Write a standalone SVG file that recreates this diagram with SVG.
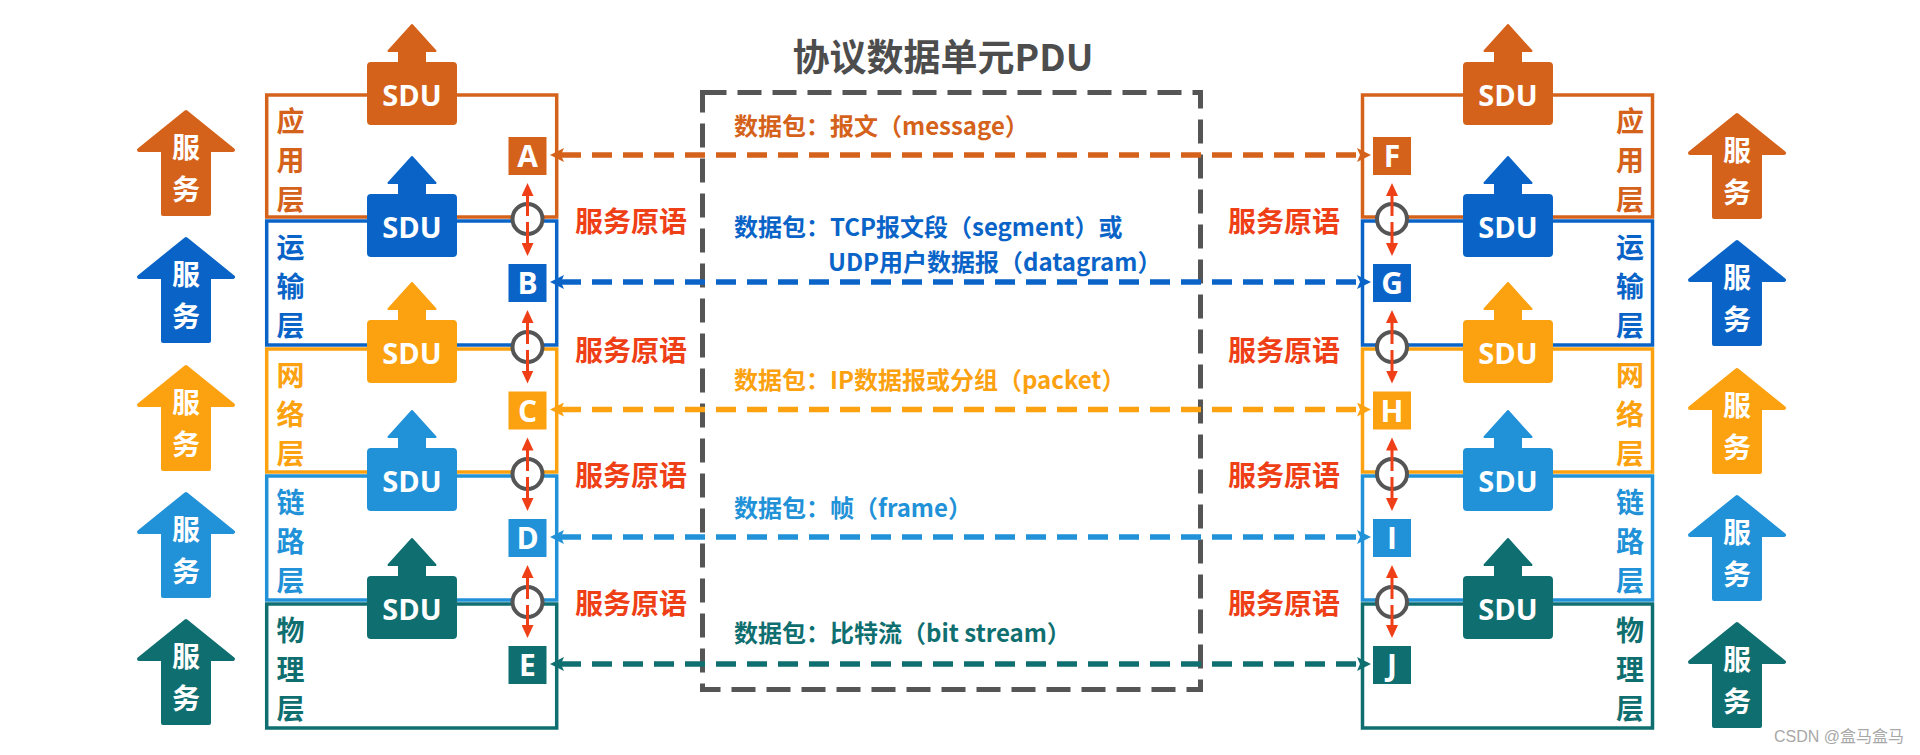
<svg xmlns="http://www.w3.org/2000/svg" xmlns:xlink="http://www.w3.org/1999/xlink" width="1920" height="755" viewBox="0 0 1920 755">
<style>
.f1{fill:#D5621B;stroke:#D5621B}
.f2{fill:#0A64C8;stroke:#0A64C8}
.f3{fill:#FCA10F;stroke:#FCA10F}
.f4{fill:#2191D8;stroke:#2191D8}
.f5{fill:#0F6F70;stroke:#0F6F70}
.svc{stroke-width:4;stroke-linejoin:round}
.sdu{stroke-width:2;stroke-linejoin:round}
.box{stroke:none}
.lay{fill:none;stroke-width:3.5}
.s1{stroke:#D5621B}.s2{stroke:#0A64C8}.s3{stroke:#FCA10F}.s4{stroke:#2191D8}.s5{stroke:#0F6F70}
.t1{fill:#D5621B}.t2{fill:#0A64C8}.t3{fill:#FCA10F}.t4{fill:#2191D8}.t5{fill:#0F6F70}
.cjk{font-family:"Noto Sans CJK SC","Noto Sans",sans-serif;font-weight:bold}
.wt{fill:#fff;stroke:none;font-family:"Noto Sans CJK SC",sans-serif;font-weight:bold;font-size:28px;text-anchor:middle}
.lt{font-family:"Open Sans","Liberation Sans",sans-serif;font-weight:bold;fill:#fff;stroke:none;text-anchor:middle}
.layt{font-family:"Noto Sans CJK SC",sans-serif;font-weight:bold;font-size:28px;text-anchor:middle;stroke:none}
.prim{font-family:"Noto Sans CJK SC",sans-serif;font-weight:bold;font-size:28px;fill:#EF3F17}
.pkt{font-family:"Noto Sans CJK SC",sans-serif;font-weight:bold;font-size:24px}
.circ{fill:#fff;stroke:#555;stroke-width:4}
.red{stroke:#EF3F17;stroke-width:3;fill:none}
.dl{fill:none;stroke-width:5.5;stroke-dasharray:20 11}
</style>
<defs>
<path id="svc" d="M0,2 L47,40 L23,40 L23,104 L-23,104 L-23,40 L-47,40 Z"/>
<path id="sdu" d="M3,0 H31 V-12 H20.5 L44,-38 L67.5,-12 H57 V0 H85 Q88,0 88,3 V58 Q88,61 85,61 H3 Q0,61 0,58 V3 Q0,0 3,0 Z"/>
<marker id="mr" markerUnits="userSpaceOnUse" markerWidth="14" markerHeight="12" refX="1" refY="6" orient="auto"><path d="M0,0 L13,6 L0,12 Z" fill="#EF3F17"/></marker>
<marker id="m1" markerUnits="userSpaceOnUse" markerWidth="15" markerHeight="14" refX="3" refY="7" orient="auto-start-reverse"><path d="M0,0 L14,7 L0,14 L3,7 Z" fill="#D5621B"/></marker>
<marker id="m2" markerUnits="userSpaceOnUse" markerWidth="15" markerHeight="14" refX="3" refY="7" orient="auto-start-reverse"><path d="M0,0 L14,7 L0,14 L3,7 Z" fill="#0A64C8"/></marker>
<marker id="m3" markerUnits="userSpaceOnUse" markerWidth="15" markerHeight="14" refX="3" refY="7" orient="auto-start-reverse"><path d="M0,0 L14,7 L0,14 L3,7 Z" fill="#FCA10F"/></marker>
<marker id="m4" markerUnits="userSpaceOnUse" markerWidth="15" markerHeight="14" refX="3" refY="7" orient="auto-start-reverse"><path d="M0,0 L14,7 L0,14 L3,7 Z" fill="#2191D8"/></marker>
<marker id="m5" markerUnits="userSpaceOnUse" markerWidth="15" markerHeight="14" refX="3" refY="7" orient="auto-start-reverse"><path d="M0,0 L14,7 L0,14 L3,7 Z" fill="#0F6F70"/></marker>
</defs>
<rect x="0" y="0" width="1920" height="755" fill="#fff"/>

<g id="title"><text x="943" y="71" class="cjk" font-size="37" fill="#4D4D4D" text-anchor="middle">协议数据单元PDU</text></g>
<g id="pdu-box"><rect x="702.5" y="92.5" width="498" height="597" fill="none" stroke="#555" stroke-width="5" stroke-dasharray="24 11"/></g>

<!-- left layers -->
<g id="left-app"><rect class="lay s1" x="266.7" y="95" width="290" height="122"/>
<text class="layt t1" x="290.5" y="132">应</text><text class="layt t1" x="290.5" y="171">用</text><text class="layt t1" x="290.5" y="210">层</text></g>
<g id="left-transport"><rect class="lay s2" x="266.7" y="221" width="290" height="124"/>
<text class="layt t2" x="290.5" y="258">运</text><text class="layt t2" x="290.5" y="297">输</text><text class="layt t2" x="290.5" y="336">层</text></g>
<g id="left-network"><rect class="lay s3" x="266.7" y="349" width="290" height="123"/>
<text class="layt t3" x="290.5" y="386">网</text><text class="layt t3" x="290.5" y="425">络</text><text class="layt t3" x="290.5" y="464">层</text></g>
<g id="left-link"><rect class="lay s4" x="266.7" y="476" width="290" height="124"/>
<text class="layt t4" x="290.5" y="513">链</text><text class="layt t4" x="290.5" y="552">路</text><text class="layt t4" x="290.5" y="591">层</text></g>
<g id="left-physical"><rect class="lay s5" x="266.7" y="604" width="290" height="124"/>
<text class="layt t5" x="290.5" y="641">物</text><text class="layt t5" x="290.5" y="680">理</text><text class="layt t5" x="290.5" y="719">层</text></g>

<!-- right layers -->
<g id="right-app"><rect class="lay s1" x="1362.5" y="95" width="290" height="122"/>
<text class="layt t1" x="1630" y="132">应</text><text class="layt t1" x="1630" y="171">用</text><text class="layt t1" x="1630" y="210">层</text></g>
<g id="right-transport"><rect class="lay s2" x="1362.5" y="221" width="290" height="124"/>
<text class="layt t2" x="1630" y="258">运</text><text class="layt t2" x="1630" y="297">输</text><text class="layt t2" x="1630" y="336">层</text></g>
<g id="right-network"><rect class="lay s3" x="1362.5" y="349" width="290" height="123"/>
<text class="layt t3" x="1630" y="386">网</text><text class="layt t3" x="1630" y="425">络</text><text class="layt t3" x="1630" y="464">层</text></g>
<g id="right-link"><rect class="lay s4" x="1362.5" y="476" width="290" height="124"/>
<text class="layt t4" x="1630" y="513">链</text><text class="layt t4" x="1630" y="552">路</text><text class="layt t4" x="1630" y="591">层</text></g>
<g id="right-physical"><rect class="lay s5" x="1362.5" y="604" width="290" height="124"/>
<text class="layt t5" x="1630" y="641">物</text><text class="layt t5" x="1630" y="680">理</text><text class="layt t5" x="1630" y="719">层</text></g>

<!-- service arrows -->
<g id="svc-left-1"><use href="#svc" x="186" y="110" class="f1 svc"/><text class="wt" x="186" y="158">服</text><text class="wt" x="186" y="200">务</text></g>
<g id="svc-left-2"><use href="#svc" x="186" y="237" class="f2 svc"/><text class="wt" x="186" y="285">服</text><text class="wt" x="186" y="327">务</text></g>
<g id="svc-left-3"><use href="#svc" x="186" y="365" class="f3 svc"/><text class="wt" x="186" y="413">服</text><text class="wt" x="186" y="455">务</text></g>
<g id="svc-left-4"><use href="#svc" x="186" y="492" class="f4 svc"/><text class="wt" x="186" y="540">服</text><text class="wt" x="186" y="582">务</text></g>
<g id="svc-left-5"><use href="#svc" x="186" y="619" class="f5 svc"/><text class="wt" x="186" y="667">服</text><text class="wt" x="186" y="709">务</text></g>
<g id="svc-right-1"><use href="#svc" x="1737" y="113" class="f1 svc"/><text class="wt" x="1737" y="161">服</text><text class="wt" x="1737" y="203">务</text></g>
<g id="svc-right-2"><use href="#svc" x="1737" y="240" class="f2 svc"/><text class="wt" x="1737" y="288">服</text><text class="wt" x="1737" y="330">务</text></g>
<g id="svc-right-3"><use href="#svc" x="1737" y="368" class="f3 svc"/><text class="wt" x="1737" y="416">服</text><text class="wt" x="1737" y="458">务</text></g>
<g id="svc-right-4"><use href="#svc" x="1737" y="495" class="f4 svc"/><text class="wt" x="1737" y="543">服</text><text class="wt" x="1737" y="585">务</text></g>
<g id="svc-right-5"><use href="#svc" x="1737" y="622" class="f5 svc"/><text class="wt" x="1737" y="670">服</text><text class="wt" x="1737" y="712">务</text></g>

<!-- SDU arrows -->
<g id="sdu-left-1"><use href="#sdu" x="368" y="63" class="f1 sdu"/><text class="lt" x="412" y="106" font-size="29">SDU</text></g>
<g id="sdu-left-2"><use href="#sdu" x="368" y="195" class="f2 sdu"/><text class="lt" x="412" y="238" font-size="29">SDU</text></g>
<g id="sdu-left-3"><use href="#sdu" x="368" y="321" class="f3 sdu"/><text class="lt" x="412" y="364" font-size="29">SDU</text></g>
<g id="sdu-left-4"><use href="#sdu" x="368" y="449" class="f4 sdu"/><text class="lt" x="412" y="492" font-size="29">SDU</text></g>
<g id="sdu-left-5"><use href="#sdu" x="368" y="577" class="f5 sdu"/><text class="lt" x="412" y="620" font-size="29">SDU</text></g>
<g id="sdu-right-1"><use href="#sdu" x="1464" y="63" class="f1 sdu"/><text class="lt" x="1508" y="106" font-size="29">SDU</text></g>
<g id="sdu-right-2"><use href="#sdu" x="1464" y="195" class="f2 sdu"/><text class="lt" x="1508" y="238" font-size="29">SDU</text></g>
<g id="sdu-right-3"><use href="#sdu" x="1464" y="321" class="f3 sdu"/><text class="lt" x="1508" y="364" font-size="29">SDU</text></g>
<g id="sdu-right-4"><use href="#sdu" x="1464" y="449" class="f4 sdu"/><text class="lt" x="1508" y="492" font-size="29">SDU</text></g>
<g id="sdu-right-5"><use href="#sdu" x="1464" y="577" class="f5 sdu"/><text class="lt" x="1508" y="620" font-size="29">SDU</text></g>

<!-- letter boxes -->
<g id="node-A"><rect class="f1 box" x="508.5" y="137" width="38" height="38"/><text class="lt" x="527.5" y="167" font-size="30">A</text></g>
<g id="node-B"><rect class="f2 box" x="508.5" y="264" width="38" height="38"/><text class="lt" x="527.5" y="294" font-size="30">B</text></g>
<g id="node-C"><rect class="f3 box" x="508.5" y="391.5" width="38" height="38"/><text class="lt" x="527.5" y="421.5" font-size="30">C</text></g>
<g id="node-D"><rect class="f4 box" x="508.5" y="519" width="38" height="38"/><text class="lt" x="527.5" y="549" font-size="30">D</text></g>
<g id="node-E"><rect class="f5 box" x="508.5" y="646" width="38" height="38"/><text class="lt" x="527.5" y="676" font-size="30">E</text></g>
<g id="node-F"><rect class="f1 box" x="1373" y="137" width="38" height="38"/><text class="lt" x="1392" y="167" font-size="30">F</text></g>
<g id="node-G"><rect class="f2 box" x="1373" y="264" width="38" height="38"/><text class="lt" x="1392" y="294" font-size="30">G</text></g>
<g id="node-H"><rect class="f3 box" x="1373" y="391.5" width="38" height="38"/><text class="lt" x="1392" y="421.5" font-size="30">H</text></g>
<g id="node-I"><rect class="f4 box" x="1373" y="519" width="38" height="38"/><text class="lt" x="1392" y="549" font-size="30">I</text></g>
<g id="node-J"><rect class="f5 box" x="1373" y="646" width="38" height="38"/><text class="lt" x="1392" y="676" font-size="30">J</text></g>

<!-- interface circles -->
<g id="sap-left"><circle class="circ" cx="527.5" cy="219" r="15"/><circle class="circ" cx="527.5" cy="347" r="15"/><circle class="circ" cx="527.5" cy="474" r="15"/><circle class="circ" cx="527.5" cy="602" r="15"/></g>
<g id="sap-right"><circle class="circ" cx="1392" cy="219" r="15"/><circle class="circ" cx="1392" cy="347" r="15"/><circle class="circ" cx="1392" cy="474" r="15"/><circle class="circ" cx="1392" cy="602" r="15"/></g>

<!-- connectors -->
<g id="connectors">
<g id="primitive-arrows">
<line class="red" x1="527.5" y1="216" x2="527.5" y2="195" marker-end="url(#mr)"/><line class="red" x1="527.5" y1="222" x2="527.5" y2="244" marker-end="url(#mr)"/>
<line class="red" x1="527.5" y1="344" x2="527.5" y2="322" marker-end="url(#mr)"/><line class="red" x1="527.5" y1="350" x2="527.5" y2="371.5" marker-end="url(#mr)"/>
<line class="red" x1="527.5" y1="471" x2="527.5" y2="449.5" marker-end="url(#mr)"/><line class="red" x1="527.5" y1="477" x2="527.5" y2="499" marker-end="url(#mr)"/>
<line class="red" x1="527.5" y1="599" x2="527.5" y2="577" marker-end="url(#mr)"/><line class="red" x1="527.5" y1="605" x2="527.5" y2="626" marker-end="url(#mr)"/>
<line class="red" x1="1392" y1="216" x2="1392" y2="195" marker-end="url(#mr)"/><line class="red" x1="1392" y1="222" x2="1392" y2="244" marker-end="url(#mr)"/>
<line class="red" x1="1392" y1="344" x2="1392" y2="322" marker-end="url(#mr)"/><line class="red" x1="1392" y1="350" x2="1392" y2="371.5" marker-end="url(#mr)"/>
<line class="red" x1="1392" y1="471" x2="1392" y2="449.5" marker-end="url(#mr)"/><line class="red" x1="1392" y1="477" x2="1392" y2="499" marker-end="url(#mr)"/>
<line class="red" x1="1392" y1="599" x2="1392" y2="577" marker-end="url(#mr)"/><line class="red" x1="1392" y1="605" x2="1392" y2="626" marker-end="url(#mr)"/>
</g>
<line class="dl s1" x1="561" y1="155" x2="1360" y2="155" marker-start="url(#m1)" marker-end="url(#m1)"/>
<line class="dl s2" x1="561" y1="282" x2="1360" y2="282" marker-start="url(#m2)" marker-end="url(#m2)"/>
<line class="dl s3" x1="561" y1="409.5" x2="1360" y2="409.5" marker-start="url(#m3)" marker-end="url(#m3)"/>
<line class="dl s4" x1="561" y1="537" x2="1360" y2="537" marker-start="url(#m4)" marker-end="url(#m4)"/>
<line class="dl s5" x1="561" y1="664" x2="1360" y2="664" marker-start="url(#m5)" marker-end="url(#m5)"/>
</g>

<!-- labels -->
<g id="primitive-labels">
<text class="prim" x="575" y="232">服务原语</text><text class="prim" x="575" y="360.5">服务原语</text><text class="prim" x="575" y="485.5">服务原语</text><text class="prim" x="575" y="614">服务原语</text>
<text class="prim" x="1228" y="232">服务原语</text><text class="prim" x="1228" y="360.5">服务原语</text><text class="prim" x="1228" y="485.5">服务原语</text><text class="prim" x="1228" y="614">服务原语</text>
</g>
<g id="pdu-labels">
<text class="pkt t1" x="734" y="135">数据包：报文（message）</text>
<text class="pkt t2" x="734" y="236" font-size="23.5">数据包：TCP报文段（segment）或</text>
<text class="pkt t2" x="828" y="271" font-size="23.5">UDP用户数据报（datagram）</text>
<text class="pkt t3" x="734" y="389">数据包：IP数据报或分组（packet）</text>
<text class="pkt t4" x="734" y="517">数据包：帧（frame）</text>
<text class="pkt t5" x="734" y="642">数据包：比特流（bit stream）</text>
</g>
<g id="watermark"><text x="1904" y="742" font-family="Liberation Sans,Noto Sans CJK SC,sans-serif" font-size="16" fill="#a8a8a8" text-anchor="end">CSDN @盒马盒马</text></g>
</svg>
